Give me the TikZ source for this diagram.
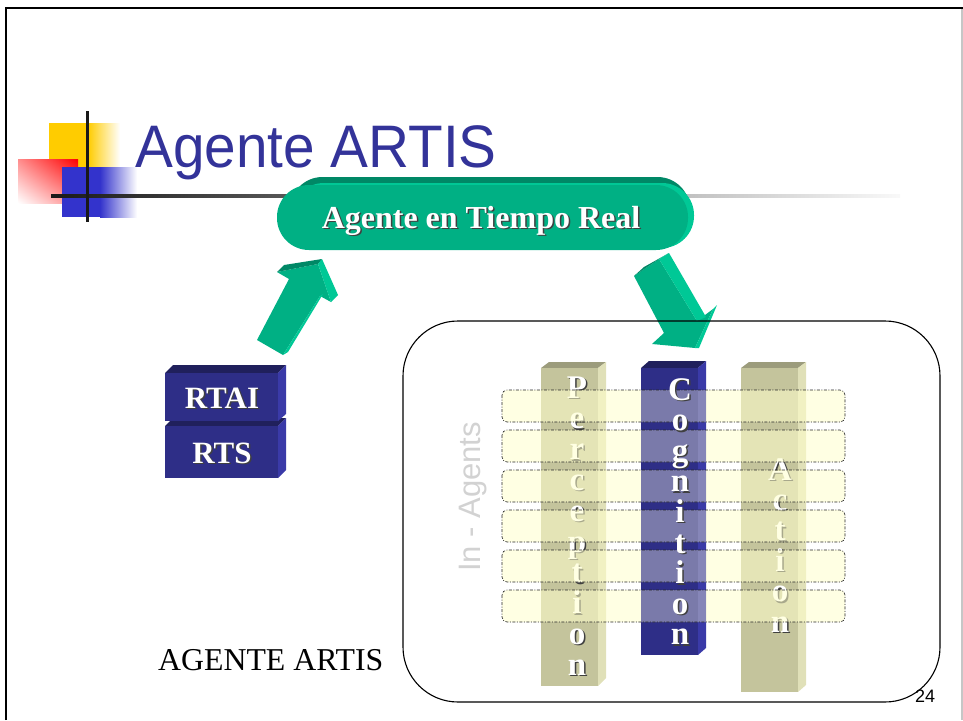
\documentclass[tikz,border=0pt]{standalone}
\usepackage{fontspec}
\setmainfont{Liberation Serif}
\setsansfont{Liberation Sans}
\usetikzlibrary{shadings}
\definecolor{titleblue}{RGB}{51,51,153}
\definecolor{pillgreen}{RGB}{0,176,132}
\definecolor{pilldark}{RGB}{0,136,102}
\definecolor{pilllight}{RGB}{0,200,150}
\definecolor{navy}{RGB}{46,46,135}
\definecolor{navytop}{RGB}{32,32,92}
\definecolor{navyside}{RGB}{58,58,168}
\definecolor{tanfront}{RGB}{196,196,156}
\definecolor{tantop}{RGB}{156,156,124}
\definecolor{tanside}{RGB}{224,224,184}
\definecolor{bandyellow}{RGB}{255,255,204}
\definecolor{bandnavy}{RGB}{122,122,170}
\definecolor{bandnavyside}{RGB}{134,134,184}
\definecolor{logoyellow}{RGB}{255,204,0}
\definecolor{logoblue}{RGB}{51,51,204}
\tikzset{
  shadowtxt/.style={text=black!75, inner sep=0pt},
  whitetxt/.style={text=white, inner sep=0pt},
  boldbig/.style={font=\bfseries\fontsize{32}{38}\selectfont},
  blocktxt/.style={font=\bfseries\fontsize{31}{36}\selectfont},
  colletter/.style={font=\bfseries\fontsize{33}{36}\selectfont, anchor=base},
  bandfill/.style={fill=bandyellow, fill opacity=0.55, rounded corners=5pt},
  bandborder/.style={draw=black!85, line width=0.6pt, rounded corners=5pt, dash pattern=on 3pt off 1.5pt on 1pt off 1.5pt},
}
\begin{document}
\begin{tikzpicture}[x=1pt,y=-1pt]
\useasboundingbox (0,0) rectangle (963,720);
% slide frame
\draw[line width=2.5pt] (6,720) -- (6,8) -- (963,8);
\draw[gray!45,line width=1.5pt] (962,9) -- (962,720);

% logo
\fill[logoyellow] (49,123) rectangle (88,167);
\shade[left color=logoyellow,right color=white] (88,123) rectangle (120,167);
\shade[upper right=red, upper left=red!45, lower left=white, lower right=red!45] (18,159) rectangle (78,203);
\fill[logoblue] (62,167) rectangle (100,217);
\shade[left color=logoblue,right color=white] (100,167) rectangle (137,217);
\shade[left color=black!90, middle color=gray!75, right color=gray!5] (51,194.5) rectangle (900,197.5);
\fill[black!90] (85.5,111) rectangle (88.5,222);

% title
\node[anchor=base west, inner sep=0pt, text=titleblue, font=\sffamily\fontsize{60}{72}\selectfont] (title) at (135,167) {\scalebox{0.945}[1]{Agente ARTIS}};

% pill
\fill[pilldark, rounded corners=32.5pt] (290,177) rectangle (690,243);
\fill[pilllight, rounded corners=32pt] (292,183) rectangle (694,248);
\fill[pillgreen, rounded corners=32pt] (277,185) rectangle (688,250);
\node[shadowtxt, boldbig, anchor=base] (pillshadow) at (482.5,229.5) {Agente en Tiempo Real};
\node[whitetxt, boldbig, anchor=base] (pilltext) at (481,228) {Agente en Tiempo Real};

% left arrow (up)
\fill[pillgreen] (257,340) -- (289,279) -- (277,272) -- (318,264) -- (331,302) -- (320,296) -- (283,355) -- cycle;
\fill[pilldark] (277,272) -- (284,265) -- (322,259) -- (318,264) -- cycle;
\fill[pilllight] (318,264) -- (322,259) -- (338,295) -- (331,302) -- cycle;
\fill[pilllight] (283,355) -- (288,352) -- (323,294) -- (320,296) -- cycle;

% right arrow (down)
\fill[pillgreen] (634,276) -- (659,259) -- (697,321) -- (713,309) -- (695,348) -- (652,344) -- (664,333) -- cycle;
\fill[pilldark] (634,276) -- (644,267) -- (669,253) -- (659,259) -- cycle;
\fill[pilllight] (659,259) -- (669,253) -- (706,317) -- (697,321) -- cycle;
\fill[pilllight] (713,309) -- (717,305) -- (699,348) -- (695,348) -- cycle;

% big rounded frame
\draw[line width=1.1pt, rounded corners=55pt] (403,321) rectangle (940,702);

% RTS / RTAI blocks
\fill[navytop] (165,426) -- (173,418) -- (286,418) -- (278,426) -- cycle;
\fill[navyside] (278,426) -- (286,418) -- (286,470) -- (278,478) -- cycle;
\fill[navy] (165,426) rectangle (278,478);
\fill[navytop] (165,373) -- (173,365) -- (286,365) -- (278,373) -- cycle;
\fill[navyside] (278,373) -- (286,365) -- (286,414) -- (278,421) -- cycle;
\fill[navy] (165,373) rectangle (278,421);
\node[shadowtxt, blocktxt] (rtaishadow) at (223.5,399.5) {RTAI};
\node[whitetxt, blocktxt] (rtai) at (222,398) {RTAI};
\node[shadowtxt, blocktxt] (rtsshadow) at (223.5,454.5) {RTS};
\node[whitetxt, blocktxt] (rts) at (222,453) {RTS};

% columns
\fill[tantop] (541,368) -- (549,362) -- (606,362) -- (598,368) -- cycle;
\fill[tanside] (598,368) -- (606,362) -- (606,678) -- (598,686) -- cycle;
\fill[tanfront] (541,368) rectangle (598,686);
\fill[navytop] (641,368) -- (649,361) -- (706,361) -- (698,368) -- cycle;
\fill[navyside] (698,368) -- (706,361) -- (706,648) -- (698,655) -- cycle;
\fill[navy] (641,368) rectangle (698,655);
\fill[tantop] (741,368) -- (749,362) -- (806,362) -- (798,368) -- cycle;
\fill[tanside] (798,368) -- (806,362) -- (806,685) -- (798,692) -- cycle;
\fill[tanfront] (741,368) rectangle (798,692);

% letters under the bands
\foreach \l [count=\i from 0] in {P,e,r,c,e,p,t,i,o,n} {
  \node[shadowtxt, colletter] (percs\i) at (578.5,{399.5+30.8*\i}) {\l};
  \node[whitetxt, colletter] (perc\i) at (577,{398+30.8*\i}) {\l};
}
\foreach \l [count=\i from 0] in {A,c,t,i,o,n} {
  \node[shadowtxt, colletter] (acts\i) at (781.5,{481.5+30.4*\i}) {\l};
  \node[whitetxt, colletter] (act\i) at (780,{480+30.4*\i}) {\l};
}

% bands
\foreach \k in {0,...,5} {
  \fill[bandfill] (502,{390+40*\k}) rectangle (845,{422+40*\k});
  \fill[bandnavy] (641,{390+40*\k}) rectangle (698,{422+40*\k});
  \fill[bandnavyside] (698,{390+40*\k}) rectangle (706,{422+40*\k});
  \draw[bandborder] (502,{390+40*\k}) rectangle (845,{422+40*\k});
}

% cognition letters on top
\foreach \l [count=\i from 0] in {C,o,g,n,i,t,i,o,n} {
  \node[shadowtxt, colletter] (cogs\i) at (681.5,{401.5+30.6*\i}) {\l};
  \node[whitetxt, colletter] (cog\i) at (680,{400+30.6*\i}) {\l};
}

% side label
\node[rotate=90, text=gray!35, inner sep=0pt, font=\sffamily\fontsize{31}{36}\selectfont] (inagents) at (473,497) {In - Agents};

% caption and page number
\node[anchor=base west, inner sep=0pt, font=\fontsize{31.8}{36}\selectfont] (caption) at (158,670) {AGENTE ARTIS};
\node[anchor=base west, inner sep=0pt, font=\sffamily\fontsize{18}{20}\selectfont] (pagenum) at (915,702) {24};
\end{tikzpicture}
\end{document}
